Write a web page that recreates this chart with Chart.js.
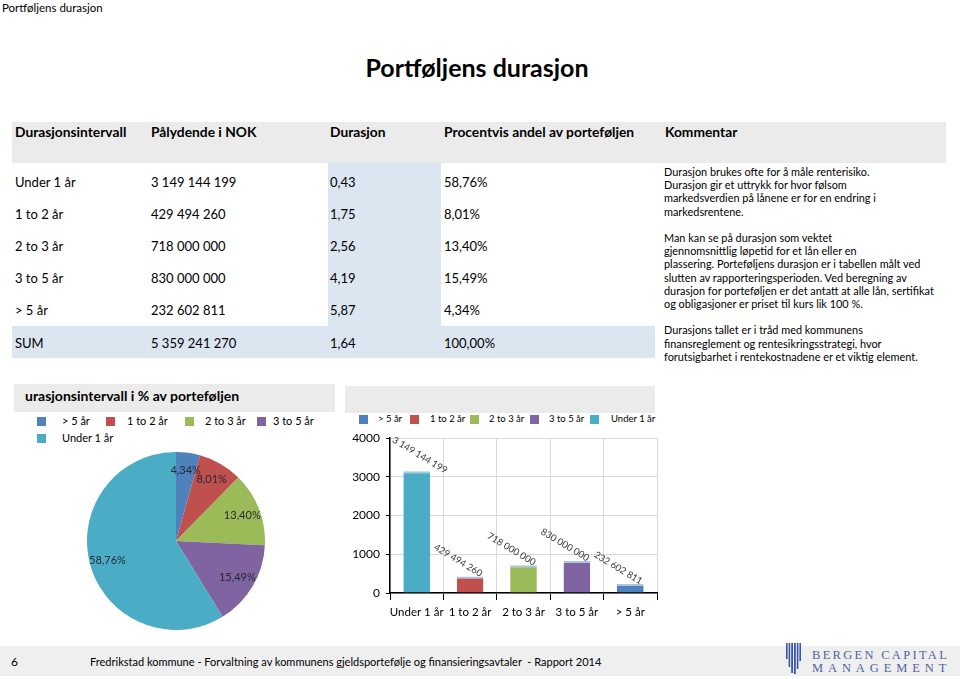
<!DOCTYPE html>
<html>
<head>
<meta charset="utf-8">
<script src="https://cdn.jsdelivr.net/npm/chart.js@4.4.1/dist/chart.umd.min.js"></script>
<style>
  html,body{margin:0;padding:0;}
  body{width:960px;height:679px;position:relative;overflow:hidden;background:#fff;font-family:Lato,"Open Sans",sans-serif;color:#000;}
  .abs{position:absolute;white-space:nowrap;}
  #topLeft{left:2px;top:1px;font-size:11.5px;line-height:13px;}
  #title{left:0;width:954px;top:52px;text-align:center;font-size:25px;font-weight:bold;}
  #hdrBand{left:12px;top:122px;width:934px;height:41px;background:#ebebeb;}
  #durCol{left:328px;top:163px;width:113px;height:164px;background:#dce6f1;}
  #sumBand{left:12px;top:326px;width:643px;height:32px;background:#dce6f1;}
  .hdr{font-size:13.8px;font-weight:bold;top:122px;}
  .cell{font-size:13px;line-height:16px;}
  #comment{left:664px;top:165px;width:295px;font-size:10.9px;line-height:13.2px;white-space:normal;}
  #comment p{margin:0 0 13.2px 0;}
  #pieBand{left:14px;top:384px;width:321px;height:28px;background:#ebebeb;overflow:hidden;}
  #pieBand span{position:absolute;left:11px;top:3px;font-size:14px;font-weight:bold;white-space:nowrap;}
  #barBand{left:345px;top:386px;width:310px;height:27px;background:#ebebeb;}
  #footBand{left:0;top:646px;width:960px;height:30px;background:#efefef;}
  #pageNo{left:11px;top:654px;font-size:12px;}
  #footText{left:90px;top:655px;font-size:11px;}
  #logoIcon{left:786px;top:643px;width:15px;height:31px;}
  .logoTxt{font-family:"Liberation Serif","DejaVu Serif",serif;font-size:12.5px;line-height:12px;color:#4f63a6;}
  #logoText1{left:812px;top:649px;letter-spacing:2.3px;}
  #logoText2{left:812px;top:662px;letter-spacing:4.9px;}
  canvas{position:absolute;}
</style>
</head>
<body>
<div class="abs" id="topLeft">Portføljens durasjon</div>
<div class="abs" id="title">Portføljens durasjon</div>

<div class="abs" id="hdrBand"></div>
<div class="abs" id="durCol"></div>
<div class="abs" id="sumBand"></div>
<div id="tableHost"></div>

<div class="abs" id="comment"></div>

<div class="abs" id="pieBand"><span>urasjonsintervall i % av porteføljen</span></div>
<div id="pieLegend"></div>
<canvas id="pie" width="178" height="178" style="left:87px;top:452px;"></canvas>

<div class="abs" id="barBand"></div>
<div id="barLegend"></div>
<canvas id="bar" width="318" height="200" style="left:345px;top:425px;"></canvas>

<div class="abs" id="footBand"></div>
<div class="abs" id="pageNo">6</div>
<div class="abs" id="footText">Fredrikstad kommune - Forvaltning av kommunens gjeldsportefølje og finansieringsavtaler &nbsp;- Rapport 2014</div>
<svg class="abs" id="logoIcon" viewBox="0 0 15 31">
  <g fill="#3b55a3">
    <rect x="0" y="0" width="1.6" height="16"/>
    <rect x="2.6" y="0" width="1.6" height="24"/>
    <rect x="5.2" y="0" width="1.8" height="30"/>
    <rect x="8" y="0" width="1.8" height="31"/>
    <rect x="10.8" y="0" width="1.6" height="26"/>
    <rect x="13.4" y="0" width="1.6" height="18"/>
  </g>
</svg>
<div class="abs logoTxt" id="logoText1">BERGEN CAPITAL</div>
<div class="abs logoTxt" id="logoText2">MANAGEMENT</div>

<script>
// ---------------- DATA ----------------
const tableHeaders = ['Durasjonsintervall', 'Pålydende i NOK', 'Durasjon', 'Procentvis andel av porteføljen'];
const commentHeader = 'Kommentar';
const categories = ['Under 1 år', '1 to 2 år', '2 to 3 år', '3 to 5 år', '> 5 år'];
const nominalNOK = [3149144199, 429494260, 718000000, 830000000, 232602811];
const durations = [0.43, 1.75, 2.56, 4.19, 5.87];
const shares = [58.76, 8.01, 13.40, 15.49, 4.34];
const sumLabel = 'SUM';
const sumNOK = 5359241270;
const sumDuration = 1.64;
const sumShare = 100.00;

const pieCategories = ['> 5 år', '1 to 2 år', '2 to 3 år', '3 to 5 år', 'Under 1 år'];
const pieShares = [4.34, 8.01, 13.40, 15.49, 58.76];

const barCategories = ['Under 1 år', '1 to 2 år', '2 to 3 år', '3 to 5 år', '> 5 år'];
const barValuesMNOK = [3149.144199, 429.494260, 718.000000, 830.000000, 232.602811];
const barLabelsNOK = [3149144199, 429494260, 718000000, 830000000, 232602811];
const yTicks = [0, 1000, 2000, 3000, 4000];

const legendCategories = ['> 5 år', '1 to 2 år', '2 to 3 år', '3 to 5 år', 'Under 1 år'];

const commentParagraphs = [
  ['Durasjon brukes ofte for å måle renterisiko.', 'Durasjon gir et uttrykk for hvor følsom', 'markedsverdien på lånene er for en endring i', 'markedsrentene.'],
  ['Man kan se på durasjon som vektet', 'gjennomsnittlig løpetid for et lån eller en', 'plassering. Porteføljens durasjon er i tabellen målt ved', 'slutten av rapporteringsperioden. Ved beregning av', 'durasjon for porteføljen er det antatt at alle lån, sertifikat', 'og obligasjoner er priset til kurs lik 100 %.'],
  ['Durasjons tallet er i tråd med kommunens', 'finansreglement og rentesikringsstrategi, hvor', 'forutsigbarhet i rentekostnadene er et viktig element.']
];

// ---------------- STYLE ----------------
const colorOf = {
  '> 5 år': '#4F81BD',
  '1 to 2 år': '#C0504D',
  '2 to 3 år': '#9BBB59',
  '3 to 5 år': '#8064A2',
  'Under 1 år': '#4BACC6'
};
const FONT = 'Lato, "Open Sans", sans-serif';

function fmtNOK(n) { return String(n).replace(/\B(?=(\d{3})+(?!\d))/g, ' '); }
function fmtDec(v) { return v.toFixed(2).replace('.', ','); }

// ---------------- TABLE ----------------
(function buildTable() {
  const host = document.getElementById('tableHost');
  const colX = [15, 151, 330, 444];
  tableHeaders.forEach((h, i) => {
    const d = document.createElement('div');
    d.className = 'abs hdr'; d.style.left = colX[i] + 'px'; d.style.top = '123px';
    d.textContent = h; host.appendChild(d);
  });
  const kh = document.createElement('div');
  kh.className = 'abs hdr'; kh.style.left = '665px'; kh.style.top = '123px';
  kh.textContent = commentHeader; host.appendChild(kh);

  const rows = categories.map((c, i) => [c, fmtNOK(nominalNOK[i]), fmtDec(durations[i]), fmtDec(shares[i]) + '%']);
  rows.push([sumLabel, fmtNOK(sumNOK), fmtDec(sumDuration), fmtDec(sumShare) + '%']);
  rows.forEach((r, ri) => {
    const cy = 181.5 + ri * 32.2;
    r.forEach((txt, ci) => {
      const d = document.createElement('div');
      d.className = 'abs cell'; d.style.left = colX[ci] + 'px'; d.style.top = (cy - 8) + 'px';
      d.textContent = txt; host.appendChild(d);
    });
  });
})();

// ---------------- COMMENT ----------------
(function buildComment() {
  const c = document.getElementById('comment');
  commentParagraphs.forEach(lines => {
    const p = document.createElement('p');
    lines.forEach((l, i) => {
      p.appendChild(document.createTextNode(l));
      if (i < lines.length - 1) p.appendChild(document.createElement('br'));
    });
    c.appendChild(p);
  });
})();

// ---------------- LEGENDS (HTML) ----------------
function buildLegend(hostId, items, boxX, textX, rowY, box, fontSize) {
  const host = document.getElementById(hostId);
  items.forEach((name, i) => {
    const b = document.createElement('div');
    b.className = 'abs';
    b.style.left = boxX[i] + 'px'; b.style.top = (rowY[i] - box / 2) + 'px';
    b.style.width = box + 'px'; b.style.height = box + 'px';
    b.style.background = colorOf[name];
    host.appendChild(b);
    const t = document.createElement('div');
    t.className = 'abs';
    t.style.left = textX[i] + 'px'; t.style.top = (rowY[i] - fontSize * 0.65) + 'px';
    t.style.fontSize = fontSize + 'px';
    t.textContent = name;
    host.appendChild(t);
  });
}
buildLegend('pieLegend', legendCategories,
  [37, 106, 185, 257, 37], [62, 127, 205, 273, 62], [421, 421, 421, 421, 438], 9, 11);
buildLegend('barLegend', legendCategories,
  [359, 410, 470, 530, 590], [378, 430, 489, 549, 611], [419, 419, 419, 419, 419], 9, 9.5);

// ---------------- PIE ----------------
const pieLabelPlugin = {
  id: 'pieLabels',
  afterDatasetsDraw(chart) {
    const ctx = chart.ctx;
    const meta = chart.getDatasetMeta(0);
    meta.data.forEach((arc, i) => {
      const p = arc.getProps(['x', 'y', 'startAngle', 'endAngle', 'outerRadius'], true);
      const mid = (p.startAngle + p.endAngle) / 2;
      const r = p.outerRadius * 0.8;
      const x = p.x + Math.cos(mid) * r;
      const y = p.y + Math.sin(mid) * r;
      ctx.save();
      ctx.font = '11px ' + FONT;
      ctx.fillStyle = '#222a35';
      ctx.textAlign = 'center';
      ctx.textBaseline = 'middle';
      ctx.fillText(fmtDec(pieShares[i]) + '%', x, y);
      ctx.restore();
    });
  }
};

new Chart(document.getElementById('pie'), {
  type: 'pie',
  data: {
    labels: pieCategories,
    datasets: [{
      data: pieShares,
      backgroundColor: pieCategories.map(c => colorOf[c]),
      borderWidth: 0
    }]
  },
  options: {
    responsive: false,
    animation: false,
    layout: { padding: 0 },
    plugins: { legend: { display: false }, tooltip: { enabled: false } }
  },
  plugins: [pieLabelPlugin]
});

// ---------------- BAR ----------------
const barLabelPlugin = {
  id: 'barLabels',
  afterDatasetsDraw(chart) {
    const ctx = chart.ctx;
    const meta = chart.getDatasetMeta(0);
    const ang = 31 * Math.PI / 180;
    ctx.save();
    ctx.font = '9.5px ' + FONT;
    meta.data.forEach((bar, i) => {
      const txt = fmtNOK(barLabelsNOK[i]);
      const halfX = ctx.measureText(txt).width * Math.cos(ang) / 2;
      const cx = Math.max(bar.x - 12, chart.chartArea.left + halfX + 3);
      ctx.save();
      ctx.translate(cx, bar.y - 16);
      ctx.rotate(ang);
      ctx.fillStyle = '#3a3a3a';
      ctx.textAlign = 'center';
      ctx.textBaseline = 'middle';
      ctx.fillText(txt, 0, 0);
      ctx.restore();
    });
    ctx.restore();
  }
};

new Chart(document.getElementById('bar'), {
  type: 'bar',
  data: {
    labels: barCategories,
    datasets: [{
      data: barValuesMNOK,
      backgroundColor: barCategories.map(c => colorOf[c]),
      borderColor: '#a7c7e4',
      borderWidth: { top: 2, left: 0, right: 0, bottom: 0 },
      borderSkipped: false,
      barPercentage: 0.5,
      categoryPercentage: 1
    }]
  },
  options: {
    responsive: false,
    animation: false,
    layout: { padding: { top: 12, right: 6, left: 0, bottom: 0 } },
    plugins: { legend: { display: false }, tooltip: { enabled: false } },
    scales: {
      x: {
        grid: { color: '#d9d9d9', tickColor: '#000', tickLength: 7, offset: true },
        border: { color: '#000', width: 1.5 },
        ticks: { color: '#000', font: { family: FONT, size: 11.5 }, padding: 5, maxRotation: 0, autoSkip: false },
        afterFit(s) { s.height = 32; }
      },
      y: {
        min: 0, max: 4000,
        afterBuildTicks(s) { s.ticks = yTicks.map(v => ({ value: v })); },
        ticks: { color: '#000', font: { family: FONT, size: 12 }, padding: 6, callback: v => String(v) },
        grid: { color: '#d9d9d9', tickColor: '#000', tickLength: 4 },
        border: { color: '#000', width: 1.5 },
        afterFit(s) { s.width = 45; }
      }
    }
  },
  plugins: [barLabelPlugin]
});
</script>
</body>
</html>
